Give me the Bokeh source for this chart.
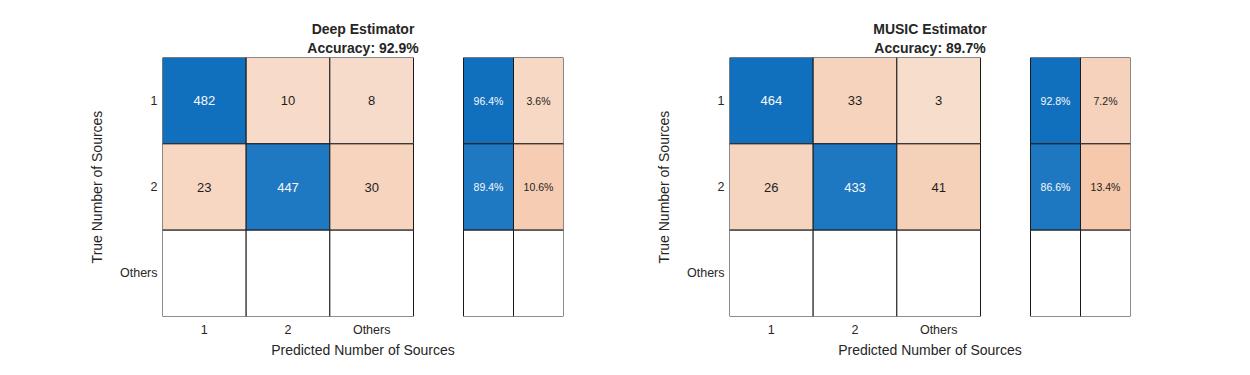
from bokeh.plotting import figure
from bokeh.layouts import row
from bokeh.models import FixedTicker, Title, ColumnDataSource
from bokeh.core.properties import value
from bokeh.embed import file_html
from bokeh.resources import INLINE

# ---- data ----
classes = ["1", "2", "Others"]
deep_title = "Deep Estimator"
deep_row1 = [482, 10, 8]
deep_row2 = [23, 447, 30]
deep_row3 = [0, 0, 0]
music_title = "MUSIC Estimator"
music_row1 = [464, 33, 3]
music_row2 = [26, 433, 41]
music_row3 = [0, 0, 0]

FONT = "Liberation Sans"
TXT = "#262626"
BLUE = (17, 112, 190)


def blend(base, m):
    return "#%02x%02x%02x" % tuple(int(round(255 - m * (255 - c))) for c in base)


def off_color(f):
    r = 247 - 10 * f
    g = 222 - 164 * f
    b = 205.5 - 250 * f
    return "#%02x%02x%02x" % (int(round(r)), int(round(g)), int(round(b)))


def make_chart(title, rows, width, border_right):
    n = len(classes)
    colpx = 251 / 3.0
    s0 = (463 - 162) / colpx
    sw = 50 / colpx
    xend = 401 / colpx

    p = figure(width=width, height=375, x_range=(0, xend), y_range=(n, 0),
               min_border_left=162, min_border_right=border_right,
               min_border_top=57, min_border_bottom=59,
               output_backend="svg", toolbar_location=None)
    p.outline_line_color = None
    p.grid.visible = False
    p.background_fill_color = "white"
    p.border_fill_color = "white"

    totals = [sum(r) for r in rows]
    diag_frac = [rows[i][i] / totals[i] for i in range(n) if totals[i] > 0]
    fmax = max(diag_frac)
    acc = sum(rows[i][i] for i in range(n)) / sum(totals) * 100

    xs, ys, fills, texts, tcols = [], [], [], [], []
    for i, r in enumerate(rows):
        for j, v in enumerate(r):
            xs.append(j + 0.5)
            ys.append(i + 0.5)
            if totals[i] == 0 or v == 0:
                fills.append("white"); texts.append(""); tcols.append(TXT)
            elif i == j:
                f = v / totals[i]
                fills.append(blend(BLUE, 1 - 0.8 * (1 - f / fmax)))
                texts.append(str(v)); tcols.append("#f8f8f8")
            else:
                f = v / totals[i]
                fills.append(off_color(f))
                texts.append(str(v)); tcols.append("#1e1e1e")
    src = ColumnDataSource(dict(x=xs, y=ys, fill=fills, text=texts, tc=tcols))
    p.rect(x="x", y="y", width=1, height=1, source=src, fill_color="fill",
           line_color="#1a1a1a", line_width=1)
    p.text(x="x", y="y", text="text", source=src, text_color="tc",
           text_align="center", text_baseline="middle",
           text_font=value(FONT), text_font_size="13px")

    # row summary
    sx, sy, sf, st, stc = [], [], [], [], []
    for i, r in enumerate(rows):
        good = r[i] / totals[i] if totals[i] else None
        for k in range(2):
            sx.append(s0 + sw * (k + 0.5))
            sy.append(i + 0.5)
            if good is None:
                sf.append("white"); st.append(""); stc.append(TXT)
            elif k == 0:
                sf.append(blend(BLUE, 1 - 0.8 * (1 - good / fmax)))
                st.append("%.1f%%" % (good * 100)); stc.append("#f8f8f8")
            else:
                bad = 1 - good
                sf.append(off_color(bad))
                st.append("%.1f%%" % (bad * 100)); stc.append("#1e1e1e")
    ssrc = ColumnDataSource(dict(x=sx, y=sy, fill=sf, text=st, tc=stc))
    p.rect(x="x", y="y", width=sw, height=1, source=ssrc, fill_color="fill",
           line_color="#1a1a1a", line_width=1)
    p.text(x="x", y="y", text="text", source=ssrc, text_color="tc",
           text_align="center", text_baseline="middle",
           text_font=value(FONT), text_font_size="10.5px")

    ticks = [k + 0.5 for k in range(n)]
    overrides = {t: c for t, c in zip(ticks, classes)}
    for ax in (p.xaxis[0], p.yaxis[0]):
        ax.ticker = FixedTicker(ticks=ticks)
        ax.major_label_overrides = overrides
        ax.axis_line_color = None
        ax.major_tick_line_color = None
        ax.minor_tick_line_color = None
        ax.major_tick_out = 0
        ax.major_tick_in = 0
        ax.major_label_text_font = FONT
        ax.major_label_text_font_size = "12.5px"
        ax.major_label_text_color = TXT
        ax.axis_label_text_font = FONT
        ax.axis_label_text_font_size = "14px"
        ax.axis_label_text_font_style = "normal"
        ax.axis_label_text_color = TXT
    p.xaxis[0].axis_label = "Predicted Number of Sources"
    p.xaxis[0].major_label_standoff = 6
    p.xaxis[0].axis_label_standoff = 2
    p.yaxis[0].axis_label = "True Number of Sources"
    p.yaxis[0].major_label_standoff = 5
    p.yaxis[0].axis_label_standoff = 12

    p.title.text = ""
    p.title.visible = False
    t2 = Title(text="Accuracy: %.1f%%" % acc, align="center", text_font=FONT,
               text_font_size="14px", text_font_style="bold", text_color=TXT,
               standoff=3.5, offset=0, text_line_height=0.9)
    t1 = Title(text=title, align="center", text_font=FONT,
               text_font_size="14px", text_font_style="bold", text_color=TXT,
               standoff=-2, offset=0)
    p.add_layout(t2, "above")
    p.add_layout(t1, "above")
    return p


left = make_chart(deep_title, [deep_row1, deep_row2, deep_row3], 567, 4)
right = make_chart(music_title, [music_row1, music_row2, music_row3], 683, 120)
layout = row(left, right)

open("out.html", "w").write(file_html(layout, INLINE))
